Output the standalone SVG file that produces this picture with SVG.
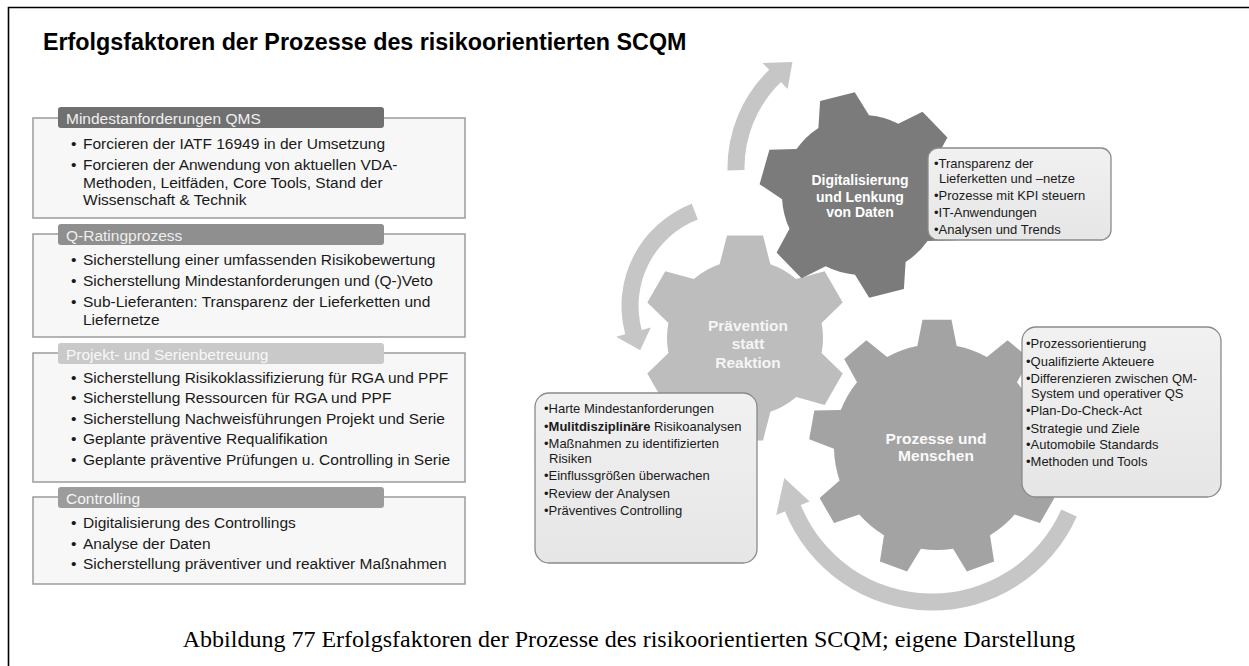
<svg xmlns="http://www.w3.org/2000/svg" width="1249" height="666" viewBox="0 0 1249 666">
<defs>
<style>
.title{font-family:"Liberation Sans",Arial,sans-serif;font-weight:bold;font-size:23.3px;fill:#000}
.hd{font-family:"Liberation Sans",Arial,sans-serif;font-size:15.5px}
.bt{font-family:"Liberation Sans",Arial,sans-serif;font-size:15.5px;fill:#1a1a1a}
.frame{fill:#f7f7f7;stroke:#9c9c9c;stroke-width:1.5}
.st{font-family:"Liberation Sans",Arial,sans-serif;font-size:13px;fill:#1a1a1a}
.gt{font-family:"Liberation Sans",Arial,sans-serif;font-weight:bold;text-anchor:middle}
.ib{fill:url(#ibg);stroke:#8a8a8a;stroke-width:1.3}
.arr{fill:#c6c6c6}
.cap{font-family:"Liberation Serif","Times New Roman",serif;font-size:24px;fill:#000;text-anchor:middle}
</style>
<linearGradient id="ibg" x1="0" y1="0" x2="0" y2="1"><stop offset="0" stop-color="#f1f1f1"/><stop offset="1" stop-color="#e6e6e6"/></linearGradient>
</defs>
<rect width="1249" height="666" fill="#fff"/>
<path d="M8.5,666 V7.5 H1249" fill="none" stroke="#000" stroke-width="1.6"/>
<text class="title" x="43" y="49.5">Erfolgsfaktoren der Prozesse des risikoorientierten SCQM</text>

<g id="box1">
<rect class="frame" x="33" y="118" width="432" height="100"/>
<rect x="58" y="107" width="326" height="21" rx="3" fill="#707070"/>
<text class="hd" x="66" y="123.5" fill="#f0f0f0">Mindestanforderungen QMS</text>
<text class="bt" x="71" y="148.5">•</text><text class="bt" x="83" y="148.5">Forcieren der IATF 16949 in der Umsetzung</text>
<text class="bt" x="71" y="170">•</text><text class="bt" x="83" y="170">Forcieren der Anwendung von aktuellen VDA-</text>
<text class="bt" x="83" y="187.5">Methoden, Leitfäden, Core Tools, Stand der</text>
<text class="bt" x="83" y="205">Wissenschaft &amp; Technik</text>
</g>

<g id="box2">
<rect class="frame" x="33" y="234" width="432" height="103"/>
<rect x="58" y="224" width="326" height="21" rx="3" fill="#8f8f8f"/>
<text class="hd" x="66" y="240.5" fill="#eeeeee">Q-Ratingprozess</text>
<text class="bt" x="71" y="264.5">•</text><text class="bt" x="83" y="264.5">Sicherstellung einer umfassenden Risikobewertung</text>
<text class="bt" x="71" y="285.5">•</text><text class="bt" x="83" y="285.5">Sicherstellung Mindestanforderungen und (Q-)Veto</text>
<text class="bt" x="71" y="306.5">•</text><text class="bt" x="83" y="306.5">Sub-Lieferanten: Transparenz der Lieferketten und</text>
<text class="bt" x="83" y="324.5">Liefernetze</text>
</g>

<g id="box3">
<rect class="frame" x="33" y="353" width="432" height="129"/>
<rect x="58" y="343" width="326" height="21" rx="3" fill="#c9c9c9"/>
<text class="hd" x="66" y="359.5" fill="#f8f8f8">Projekt- und Serienbetreuung</text>
<text class="bt" x="71" y="382.5">•</text><text class="bt" x="83" y="382.5">Sicherstellung Risikoklassifizierung für RGA und PPF</text>
<text class="bt" x="71" y="403">•</text><text class="bt" x="83" y="403">Sicherstellung Ressourcen für RGA und PPF</text>
<text class="bt" x="71" y="423.5">•</text><text class="bt" x="83" y="423.5">Sicherstellung Nachweisführungen Projekt und Serie</text>
<text class="bt" x="71" y="443.5">•</text><text class="bt" x="83" y="443.5">Geplante präventive Requalifikation</text>
<text class="bt" x="71" y="464.5">•</text><text class="bt" x="83" y="464.5">Geplante präventive Prüfungen u. Controlling in Serie</text>
</g>

<g id="box4">
<rect class="frame" x="33" y="497" width="432" height="87"/>
<rect x="58" y="487" width="326" height="21" rx="3" fill="#9c9c9c"/>
<text class="hd" x="66" y="503.5" fill="#f5f5f5">Controlling</text>
<text class="bt" x="71" y="527.5">•</text><text class="bt" x="83" y="527.5">Digitalisierung des Controllings</text>
<text class="bt" x="71" y="548.5">•</text><text class="bt" x="83" y="548.5">Analyse der Daten</text>
<text class="bt" x="71" y="568.5">•</text><text class="bt" x="83" y="568.5">Sicherstellung präventiver und reaktiver Maßnahmen</text>
</g>

<g id="connectors">
<path class="arr" d="M727.5,170.4 A136.5,136.5 0 0 1 769.2,69.8 L762.6,63.0 L792.4,61.9 L787.6,88.9 L781.0,82.0 A119.5,119.5 0 0 0 744.5,170.1 Z"/>
<path class="arr" d="M691.8,203.8 A109.5,109.5 0 0 0 625.2,334.3 L616.1,336.8 L640.2,350.3 L650.8,327.5 L641.7,329.9 A92.5,92.5 0 0 1 697.8,219.6 Z"/>
<path class="arr" d="M1076.8,516.5 A158.5,158.5 0 0 1 785.0,511.4 L776.2,514.9 L784.3,478.0 L809.6,501.4 L800.8,505.0 A141.5,141.5 0 0 0 1061.3,509.5 Z"/>
</g>

<g id="gear-praevention">
<path fill="#bdbdbd" d="M719.6,264.3 L727.0,235.6 L763.0,235.6 L770.4,264.3 A78,78 0 0 1 796.2,279.1 L824.7,271.2 L842.7,302.4 L821.6,323.1 A78,78 0 0 1 821.6,352.9 L842.7,373.6 L824.7,404.9 L796.2,396.9 A78,78 0 0 1 770.4,411.7 L763.0,440.4 L727.0,440.4 L719.6,411.7 A78,78 0 0 1 693.8,396.9 L665.3,404.9 L647.3,373.6 L668.4,352.9 A78,78 0 0 1 668.4,323.1 L647.3,302.4 L665.3,271.2 L693.8,279.1 A78,78 0 0 1 719.6,264.3 Z"/>
<text class="gt" font-size="15.5" fill="#f5f5f5"><tspan x="748" y="330.5">Prävention</tspan><tspan x="748" y="348.5">statt</tspan><tspan x="748" y="367.5">Reaktion</tspan></text>
</g>

<g id="gear-prozesse">
<path fill="#a3a3a3" d="M917.3,345.9 L922.5,319.8 L951.5,319.8 L956.7,345.9 A103,103 0 0 1 986.9,356.9 L1007.6,340.3 L1029.9,358.9 L1017.0,382.2 A103,103 0 0 1 1033.2,410.1 L1059.7,410.6 L1064.8,439.2 L1040.0,448.8 A103,103 0 0 1 1034.4,480.5 L1054.4,498.0 L1039.9,523.1 L1014.7,514.6 A103,103 0 0 1 990.0,535.3 L994.1,561.5 L966.9,571.5 L953.1,548.7 A103,103 0 0 1 920.9,548.7 L907.1,571.5 L879.9,561.5 L884.0,535.3 A103,103 0 0 1 859.3,514.6 L834.1,523.1 L819.6,498.0 L839.6,480.5 A103,103 0 0 1 834.0,448.8 L809.2,439.2 L814.3,410.6 L840.8,410.1 A103,103 0 0 1 857.0,382.2 L844.2,358.9 L866.4,340.3 L887.1,356.9 A103,103 0 0 1 917.3,345.9 Z"/>
<text class="gt" font-size="15.5" fill="#fafafa"><tspan x="936" y="443.5">Prozesse und</tspan><tspan x="936" y="461">Menschen</tspan></text>
</g>

<g id="gear-digital">
<path fill="#7b7b7b" d="M818.4,127.9 L820.1,100.9 L854.8,92.2 L869.0,115.3 A80,80 0 0 1 898.3,123.7 L922.5,111.7 L947.4,137.4 L934.5,161.2 A80,80 0 0 1 941.9,190.8 L964.4,205.8 L954.6,240.2 L927.5,240.9 A80,80 0 0 1 905.6,262.1 L903.9,289.1 L869.2,297.8 L855.0,274.7 A80,80 0 0 1 825.7,266.3 L801.5,278.3 L776.6,252.6 L789.5,228.8 A80,80 0 0 1 782.1,199.2 L759.6,184.2 L769.4,149.8 L796.5,149.1 A80,80 0 0 1 818.4,127.9 Z"/>
<text class="gt" font-size="14" fill="#ffffff"><tspan x="860" y="185">Digitalisierung</tspan><tspan x="860" y="201.5">und Lenkung</tspan><tspan x="860" y="216.5">von Daten</tspan></text>
</g>

<g id="info-digital">
<rect class="ib" x="928" y="148" width="183" height="92" rx="10"/>
<text class="st" x="934" y="167.5">•Transparenz der</text>
<text class="st" x="939" y="182.5">Lieferketten und –netze</text>
<text class="st" x="934" y="199.5">•Prozesse mit KPI steuern</text>
<text class="st" x="934" y="216.5">•IT-Anwendungen</text>
<text class="st" x="934" y="233.5">•Analysen und Trends</text>
</g>

<g id="info-praevention">
<rect class="ib" x="535" y="393" width="222" height="170" rx="14"/>
<text class="st" x="544" y="412.5">•Harte Mindestanforderungen</text>
<text class="st" x="544" y="431">•<tspan font-weight="bold">Mulitdisziplinäre</tspan> Risikoanalysen</text>
<text class="st" x="544" y="448">•Maßnahmen zu identifizierten</text>
<text class="st" x="549" y="462.5">Risiken</text>
<text class="st" x="544" y="480">•Einflussgrößen überwachen</text>
<text class="st" x="544" y="497.5">•Review der Analysen</text>
<text class="st" x="544" y="514.5">•Präventives Controlling</text>
</g>

<g id="info-prozesse">
<rect class="ib" x="1022" y="327" width="199" height="170" rx="14"/>
<text class="st" x="1026" y="347.5">•Prozessorientierung</text>
<text class="st" x="1026" y="365.5">•Qualifizierte Akteuere</text>
<text class="st" x="1026" y="382.5">•Differenzieren zwischen QM-</text>
<text class="st" x="1031" y="397.5">System und operativer QS</text>
<text class="st" x="1026" y="414.5">•Plan-Do-Check-Act</text>
<text class="st" x="1026" y="432.5">•Strategie und Ziele</text>
<text class="st" x="1026" y="448.5">•Automobile Standards</text>
<text class="st" x="1026" y="465.5">•Methoden und Tools</text>
</g>

<text class="cap" x="629" y="647">Abbildung 77 Erfolgsfaktoren der Prozesse des risikoorientierten SCQM; eigene Darstellung</text>
</svg>
